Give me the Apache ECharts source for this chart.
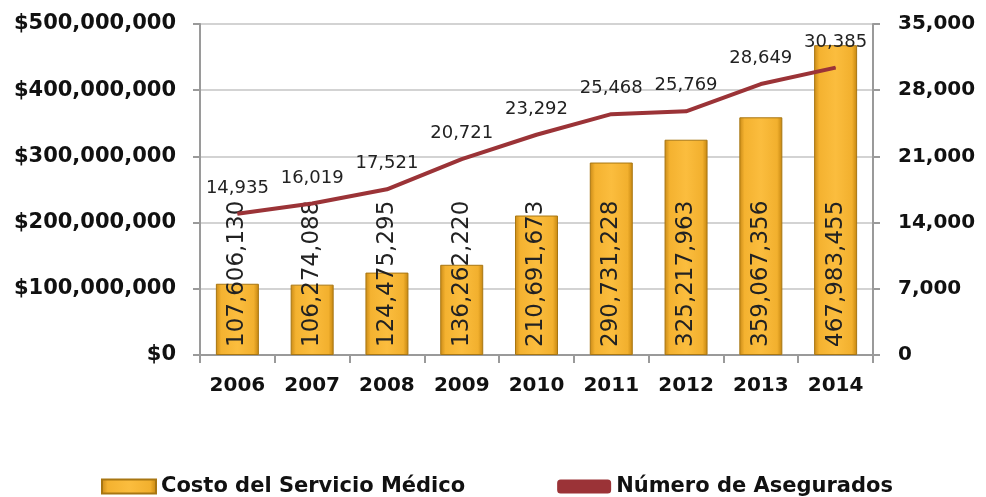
<!DOCTYPE html>
<html>
<head>
<meta charset="utf-8">
<script src="https://cdn.jsdelivr.net/npm/echarts@6/dist/echarts.min.js"></script>
<style>
  html, body { margin: 0; padding: 0; background: #fff; }
  #chart { width: 986px; height: 497px; }
</style>
</head>
<body>
<div id="chart"></div>
<script>
// años
const years = ["2006", "2007", "2008", "2009", "2010", "2011", "2012", "2013", "2014"];
// costo del servicio médico ($)
const costo = [107606130, 106274088, 124475295, 136262220, 210691673, 290731228, 325217963, 359067356, 467983455];
// número de asegurados
const asegurados = [14935, 16019, 17521, 20721, 23292, 25468, 25769, 28649, 30385];

const fmt = (v) => Number(v).toLocaleString("en-US");
const axisFont = { fontFamily: "DejaVu Sans", fontWeight: "bold", fontSize: 21, color: "#111" };

const chart = echarts.init(document.getElementById("chart"));

const option = {
  backgroundColor: "#fff",
  animation: false,
  grid: { left: 200, right: 113, top: 24, bottom: 142 },
  legend: {
    left: 96,
    top: 471,
    itemWidth: 54,
    itemHeight: 14,
    itemGap: 92,
    textStyle: { fontFamily: "DejaVu Sans", fontWeight: "bold", fontSize: 21, color: "#111" },
    data: [
      { name: "Costo del Servicio Médico", icon: "rect" },
      { name: "Número de Asegurados", icon: "roundRect", itemStyle: { color: "#9b3337" } },
    ],
  },
  xAxis: {
    type: "category",
    data: years,
    axisLine: { lineStyle: { color: "#9a9a9a", width: 2 } },
    axisTick: { show: true, length: 8, lineStyle: { color: "#9a9a9a", width: 2 } },
    axisLabel: Object.assign({}, axisFont, { fontSize: 20, margin: 21, interval: 0 }),
  },
  yAxis: [
    {
      type: "value",
      min: 0,
      max: 500000000,
      interval: 100000000,
      axisLine: { show: true, lineStyle: { color: "#9a9a9a", width: 2 } },
      axisTick: { show: true, length: 7, lineStyle: { color: "#9a9a9a", width: 2 } },
      splitLine: { lineStyle: { color: "#c4c4c4", width: 1.5 } },
      axisLabel: Object.assign({}, axisFont, { margin: 24, formatter: (v) => "$" + fmt(v) }),
    },
    {
      type: "value",
      min: 0,
      max: 35000,
      interval: 7000,
      position: "right",
      axisLine: { show: true, lineStyle: { color: "#9a9a9a", width: 2 } },
      axisTick: { show: true, length: 7, lineStyle: { color: "#9a9a9a", width: 2 } },
      splitLine: { show: false },
      axisLabel: Object.assign({}, axisFont, { fontSize: 20, margin: 25, formatter: (v) => fmt(v) }),
    },
  ],
  series: [
    {
      name: "Costo del Servicio Médico",
      type: "bar",
      data: costo,
      barWidth: 43,
      itemStyle: {
        color: new echarts.graphic.LinearGradient(0, 0, 1, 0, [
          { offset: 0, color: "#c98a17" },
          { offset: 0.12, color: "#f4b230" },
          { offset: 0.5, color: "#fbbd3e" },
          { offset: 0.88, color: "#f2b02e" },
          { offset: 1, color: "#c4850f" },
        ]),
        borderColor: "#a87612",
        borderWidth: 1,
      },
      label: {
        show: true,
        position: "insideBottom",
        rotate: 90,
        align: "left",
        verticalAlign: "middle",
        distance: 8,
        fontFamily: "DejaVu Sans",
        fontSize: 23,
        color: "#222",
        formatter: (p) => fmt(p.value),
      },
      z: 2,
    },
    {
      name: "Número de Asegurados",
      type: "line",
      yAxisIndex: 1,
      data: asegurados,
      symbol: "circle",
      symbolSize: 1,
      showSymbol: true,
      lineStyle: { color: "#9b3337", width: 4 },
      itemStyle: { color: "#9b3337" },
      label: {
        show: true,
        position: "top",
        distance: 16,
        fontFamily: "DejaVu Sans",
        fontSize: 18,
        color: "#222",
        formatter: (p) => fmt(p.value),
      },
      z: 3,
    },
  ],
};

chart.setOption(option);
</script>
</body>
</html>
